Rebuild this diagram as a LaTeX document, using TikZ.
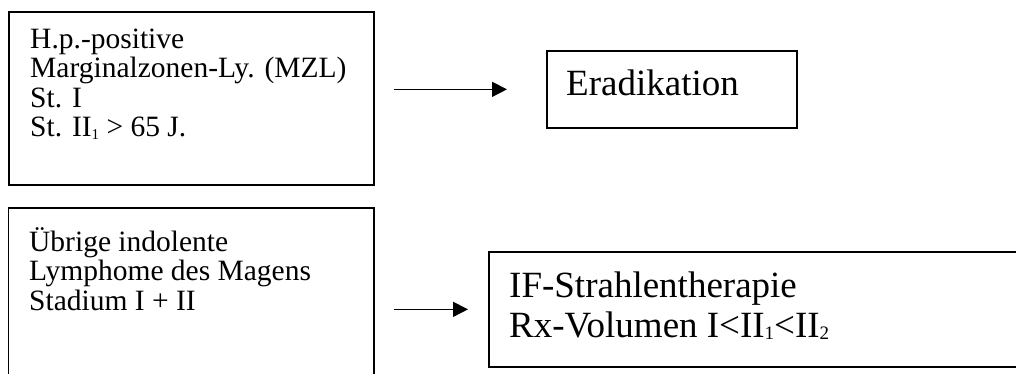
\documentclass[tikz,border=0pt]{standalone}
\usepackage{fontspec}
\setmainfont{Liberation Serif}
\usetikzlibrary{arrows.meta,calc}

% small lowered index digits, word-processor style
\newcommand\idxsmall[1]{\raisebox{-2.5pt}{\fontsize{15}{15}\selectfont #1}}
\newcommand\idxbig[1]{\raisebox{-2.5pt}{\fontsize{19}{19}\selectfont #1}}

\tikzset{
  frame/.style={draw=black, line width=1.7pt, fill=none, inner sep=0pt, anchor=north west},
  smalltxt/.style={anchor=north west, inner sep=0pt, align=left,
                   font=\fontsize{29.5}{29.5}\selectfont},
  bigtxt/.style={anchor=north west, inner sep=0pt, align=left,
                 font=\fontsize{37}{40}\selectfont},
  flow/.style={line width=1.5pt, -{Triangle[length=15pt,width=15pt]}}
}

\begin{document}
\begin{tikzpicture}[x=1pt,y=-1pt]
  \useasboundingbox (0,0) rectangle (1016,374);
  \clip (0,0) rectangle (1016,374);

  % boxes (the lower ones run past the page edge)
  \node[frame, minimum width=365pt, minimum height=173pt] (b1) at (8,11) {};
  \node[frame, minimum width=250pt, minimum height=77pt]  (b2) at (546,50) {};
  \node[frame, minimum width=365.5pt, minimum height=200pt] (b3) at (7.5,207) {};
  \node[frame, minimum width=560pt, minimum height=115pt] (b4) at (488,251) {};

  % box texts (first baseline = top + 1em)
  \node[smalltxt] (t1) at (30,{48-29.5}) {\rule{0pt}{29.5pt}H.p.-positive\\
    Marginalzonen-Ly. (MZL)\\ St. I\\ St. II\idxsmall{1} > 65 J.};
  \node[bigtxt] (t2) at (566,{95-37}) {\rule{0pt}{37pt}Eradikation};
  \node[smalltxt] (t3) at (29,{251-29.5}) {\rule{0pt}{29.5pt}Übrige indolente\\
    Lymphome des Magens\\ Stadium I + II};
  \node[bigtxt] (t4) at (509,{297-37}) {\rule{0pt}{37pt}IF-Strahlentherapie\\
    Rx-Volumen I<II\idxbig{1}<II\idxbig{2}};

  % arrows
  \draw[flow] ($(b1.east|-b2.west)+(19pt,0)$) -- ($(b2.west)+(-39pt,0)$);
  \draw[flow] ($(b3.east|-b4.west)+(19pt,0)$) -- ($(b4.west)+(-20pt,0)$);
\end{tikzpicture}
\end{document}
